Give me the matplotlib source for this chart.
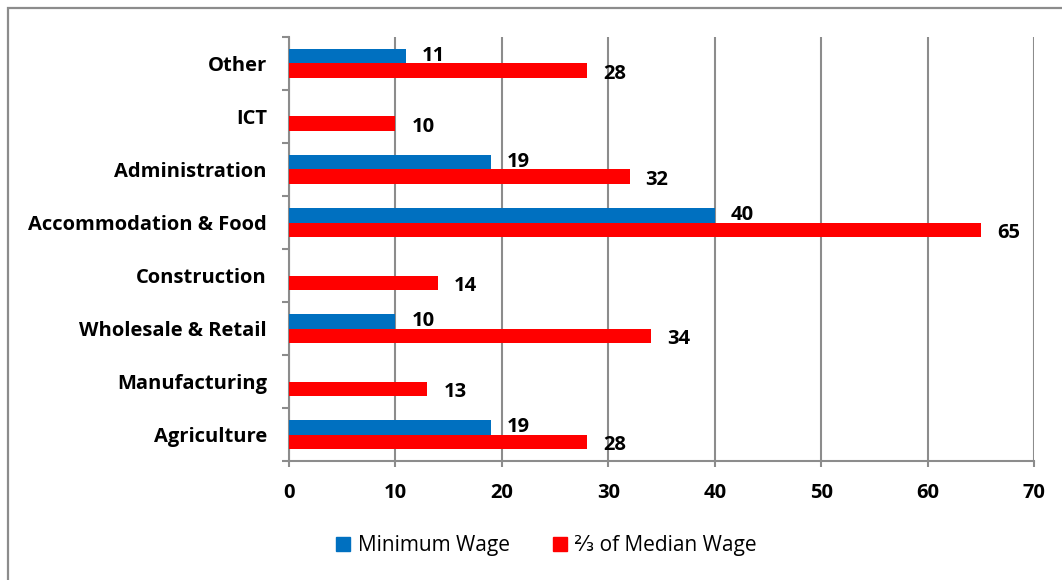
import numpy as np
import matplotlib
matplotlib.use("Agg")
import matplotlib.pyplot as plt
from matplotlib.patches import Rectangle
from matplotlib.lines import Line2D

plt.rcParams['font.family'] = ['Open Sans', 'DejaVu Sans']

sectors = ["Agriculture", "Manufacturing", "Wholesale & Retail", "Construction",
           "Accommodation & Food", "Administration", "ICT", "Other"]
minimum_wage = [19, None, 10, None, 40, 19, None, 11]
median_two_thirds = [28, 13, 34, 14, 65, 32, 10, 28]
series_names = ["Minimum Wage", "\u2154 of Median Wage"]
x_ticks = [0, 10, 20, 30, 40, 50, 60, 70]

BLUE = "#0070C0"
RED = "#FF0000"
GRID = "#8C8C8C"
FS = 14.5

W, H = 1062, 580
fig = plt.figure(figsize=(W / 100, H / 100), dpi=100)
ax = fig.add_axes([289 / W, 1 - 461 / H, (1034 - 289) / W, (461 - 37) / H])

# outer chart frame
fig.patches.append(Rectangle((8 / W, -0.1), 1.2, 1.1 - 8 / H,
                             transform=fig.transFigure, fill=False,
                             edgecolor="#8C8C8C", linewidth=1.6))

y = np.arange(len(sectors))
h = 0.28
off = 0.14

for i, v in enumerate(minimum_wage):
    if v is None:
        continue
    ax.barh(y[i] + off, v, height=h, color=BLUE, zorder=3)
    ax.text(v + 1.5, y[i] + off, str(v), va="center", ha="left",
            fontsize=FS, fontweight="bold", color="black", zorder=4)

for i, v in enumerate(median_two_thirds):
    ax.barh(y[i] - off, v, height=h, color=RED, zorder=3)
    ax.text(v + 1.5, y[i] - off - 0.05, str(v), va="center", ha="left",
            fontsize=FS, fontweight="bold", color="black", zorder=4)

ax.set_xlim(0, 70)
ax.set_ylim(-0.5, len(sectors) - 0.5)

ax.set_xticks(x_ticks)
ax.set_xticklabels([str(t) for t in x_ticks], fontsize=FS, fontweight="bold")
ax.xaxis.grid(True, color=GRID, linewidth=1.5, zorder=0)
ax.tick_params(axis="x", direction="out", length=4, width=1.5, color=GRID, pad=12)

# category boundaries as major ticks, names at centres
ax.set_yticks(np.arange(-0.5, len(sectors), 1.0))
ax.set_yticklabels([])
ax.set_yticks(y, minor=True)
ax.set_yticklabels(sectors, minor=True, fontsize=FS, fontweight="bold")
ax.tick_params(axis="y", which="major", direction="out", length=5, width=1.5, color=GRID)
ax.tick_params(axis="y", which="minor", length=0, pad=16)

for s in ["top", "right"]:
    ax.spines[s].set_visible(False)
for s in ["left", "bottom"]:
    ax.spines[s].set_color(GRID)
    ax.spines[s].set_linewidth(1.5)

handles = [Line2D([], [], marker="s", linestyle="none", markersize=10,
                  markerfacecolor=BLUE, markeredgecolor=BLUE),
           Line2D([], [], marker="s", linestyle="none", markersize=10,
                  markerfacecolor=RED, markeredgecolor=RED)]
fig.legend(handles, series_names, loc="center", bbox_to_anchor=(545 / W, 1 - 546 / H),
           ncol=2, frameon=False, fontsize=15, handletextpad=0.2,
           columnspacing=1.9, handlelength=1.0)

fig.savefig("out.png", dpi=100, facecolor="white")
